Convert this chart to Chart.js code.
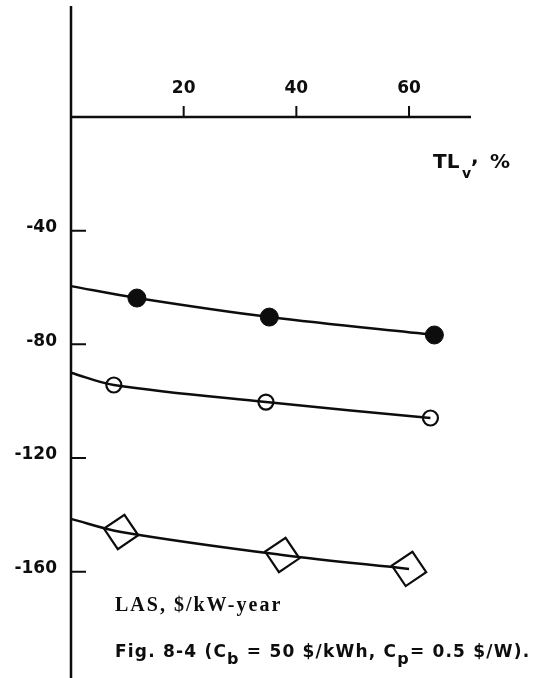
<!DOCTYPE html>
<html>
<head>
<meta charset="utf-8">
<script src="https://cdn.jsdelivr.net/npm/chart.js@4"></script>
<style>
  html, body { margin: 0; padding: 0; background: #fff; }
  #wrap { width: 542px; height: 678px; position: relative; }
</style>
</head>
<body>
<div id="wrap"><canvas id="lasChart"></canvas></div>
<script>
// TL_v (%) against LAS ($/kW-year), three cases
const tlFilled = [11.7, 35.2, 64.5];
const lasFilled = [-63.7, -70.4, -76.7];
const lasFilledAt0 = -59.5;

const tlOpen = [7.6, 34.6, 63.8];
const lasOpen = [-94.3, -100.3, -105.9];
const lasOpenAt0 = -90.0;

const tlDiamond = [8.9, 37.5, 60.0];
const lasDiamond = [-146.0, -154.1, -159.0];
const lasDiamondAt0 = -141.4;

const xTicks = [20, 40, 60];
const yTicks = [-40, -80, -120, -160];

const INK = '#0d0d0d';

// curve starts on the LAS axis, markers only on measured points
function curve(xs, ys, at0) {
    return [{x: 0, y: at0}].concat(xs.map((v, i) => ({x: v, y: ys[i]})));
}
function radii(xs, r) {
    return [0].concat(xs.map(() => r));
}

// hand drawn style axes: TL axis at LAS = 0, ticks pointing inward
const axesPlugin = {
    id: 'plotterAxes',
    beforeDatasetsDraw(chart) {
        const {ctx, scales: {x, y}} = chart;
        const x0 = x.getPixelForValue(0);
        const y0 = y.getPixelForValue(0);
        ctx.save();
        ctx.strokeStyle = INK;
        ctx.fillStyle = INK;
        ctx.lineWidth = 2.5;
        ctx.beginPath();
        ctx.moveTo(x0, 6);
        ctx.lineTo(x0, chart.height);
        ctx.moveTo(x0, y0);
        ctx.lineTo(x.getPixelForValue(x.max), y0);
        ctx.stroke();

        ctx.lineWidth = 2;
        ctx.beginPath();
        xTicks.forEach(t => {
            const px = x.getPixelForValue(t);
            ctx.moveTo(px, y0);
            ctx.lineTo(px, y0 - 11);
        });
        yTicks.forEach(t => {
            const py = y.getPixelForValue(t);
            ctx.moveTo(x0, py);
            ctx.lineTo(x0 + 15, py);
        });
        ctx.stroke();

        ctx.font = 'bold 17px "DejaVu Sans"';
        ctx.textAlign = 'center';
        ctx.textBaseline = 'alphabetic';
        xTicks.forEach(t => {
            ctx.fillText(String(t), x.getPixelForValue(t), y0 - 24);
        });
        ctx.textAlign = 'right';
        ctx.textBaseline = 'middle';
        yTicks.forEach(t => {
            ctx.fillText(String(t), x0 - 14, y.getPixelForValue(t) - 3);
        });
        ctx.restore();
    },
    afterDraw(chart) {
        const {ctx} = chart;
        ctx.save();
        ctx.fillStyle = INK;
        ctx.textAlign = 'left';
        ctx.textBaseline = 'alphabetic';

        // axis titles
        ctx.font = 'bold 20px "DejaVu Sans"';
        ctx.fillText('TL', 433, 168);
        ctx.font = 'bold 14px "DejaVu Sans"';
        ctx.fillText('v', 462, 178);
        ctx.font = 'bold 20px "DejaVu Sans"';
        ctx.fillText(',', 471, 163);
        ctx.fillText('%', 490, 168);

        ctx.font = 'bold 20px "Liberation Serif"';
        ctx.letterSpacing = '2px';
        ctx.fillText('LAS, $/kW-year', 115, 611);

        // caption with subscripts
        const parts = [
            ['Fig. 8-4 (C', 0], ['b', 1], [' = 50 $/kWh, C', 0], ['p', 1], ['= 0.5 $/W).', 0]
        ];
        ctx.letterSpacing = '1.2px';
        let cx = 115;
        parts.forEach(([txt, sub]) => {
            ctx.font = sub ? 'bold 16px "DejaVu Sans"' : 'bold 17px "DejaVu Sans"';
            ctx.fillText(txt, cx, sub ? 664 : 657);
            cx += ctx.measureText(txt).width;
        });
        ctx.restore();
    }
};

const ctx = document.getElementById('lasChart').getContext('2d');
new Chart(ctx, {
    type: 'scatter',
    data: {
        datasets: [
            {
                data: curve(tlFilled, lasFilled, lasFilledAt0),
                showLine: true,
                tension: 0.35,
                borderColor: INK,
                borderWidth: 2.5,
                pointStyle: 'circle',
                pointRadius: radii(tlFilled, 9),
                pointBackgroundColor: INK,
                pointBorderColor: INK,
                pointBorderWidth: 1
            },
            {
                data: curve(tlOpen, lasOpen, lasOpenAt0),
                showLine: true,
                tension: 0.35,
                borderColor: INK,
                borderWidth: 2.5,
                pointStyle: 'circle',
                pointRadius: radii(tlOpen, 7.5),
                pointBackgroundColor: 'rgba(0,0,0,0)',
                pointBorderColor: INK,
                pointBorderWidth: 2.2
            },
            {
                data: curve(tlDiamond, lasDiamond, lasDiamondAt0),
                showLine: true,
                tension: 0.35,
                borderColor: INK,
                borderWidth: 2.5,
                pointStyle: 'rect',
                pointRotation: 56,
                pointRadius: radii(tlDiamond, 17.5),
                pointBackgroundColor: 'rgba(0,0,0,0)',
                pointBorderColor: INK,
                pointBorderWidth: 2.2
            }
        ]
    },
    options: {
        responsive: true,
        maintainAspectRatio: false,
        animation: false,
        events: [],
        clip: false,
        layout: { padding: { left: 71, right: 71, top: 117, bottom: 21 } },
        plugins: {
            legend: { display: false },
            title: { display: false },
            tooltip: { enabled: false }
        },
        scales: {
            x: { type: 'linear', min: 0, max: 71, display: false },
            y: { type: 'linear', min: -190, max: 0, display: false }
        }
    },
    plugins: [axesPlugin]
});
</script>
</body>
</html>
